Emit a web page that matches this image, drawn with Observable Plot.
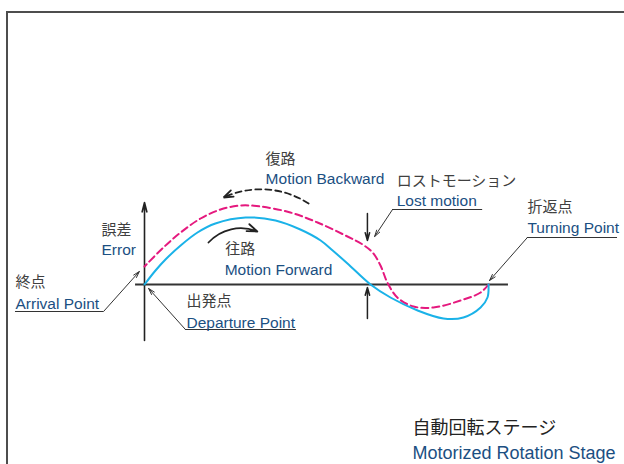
<!DOCTYPE html>
<html><head><meta charset="utf-8">
<script src="https://cdn.jsdelivr.net/npm/d3@7"></script>
<script src="https://cdn.jsdelivr.net/npm/@observablehq/plot@0.6"></script>
<style>
html,body{margin:0;padding:0;background:#fff;overflow:hidden;}
#wrap{position:relative;width:624px;height:464px;overflow:hidden;}
#frame{position:absolute;left:6px;top:11px;width:640px;height:480px;border-top:2px solid #4d4d4d;border-left:2px solid #4d4d4d;}
#chart{position:absolute;left:0;top:0;}
</style></head><body>
<div id="wrap"><div id="frame"></div><div id="chart"></div></div>
<script>
// Motion Forward (往路): stage position vs. positioning error
const forwardPos = [0, 3.2, 6.1, 10.5, 15.4, 20.6, 29.4, 38.1, 45.3, 51.2, 54.7, 59.0, 65.7, 71.5, 79.4, 86.9, 92.7, 97.7, 99.7, 100];
const forwardErr = [0, 1.4, 2.5, 3.9, 5.2, 6.1, 6.7, 6.4, 5.5, 4.4, 3.4, 2.1, 0, -1.3, -2.6, -3.4, -3.3, -2.3, -1.3, 0];
// Motion Backward (復路): from turning point back to arrival point
const backwardPos = [100, 97.7, 91.9, 84.0, 78.2, 73.5, 70.6, 68.6, 66.3, 63.4, 59.0, 50.3, 42.4, 33.7, 27.9, 22.1, 16.3, 10.5, 5.5, 0];
const backwardErr = [0, -0.8, -1.6, -2.3, -2.2, -1.3, 0.2, 1.9, 3.2, 4.0, 4.8, 6.2, 7.2, 7.8, 7.9, 7.5, 6.6, 5.2, 3.7, 1.8];

// Label texts
const jpLabels = ["復路", "ロストモーション", "折返点", "誤差", "往路", "終点", "出発点"];
const enLabels = ["Motion Backward", "Lost motion", "Turning Point", "Error", "Motion Forward", "Arrival Point", "Departure Point"];
const titleJp = "自動回転ステージ";
const titleEn = "Motorized Rotation Stage";

const forward = forwardPos.map((p, i) => ({pos: p, err: forwardErr[i]}));
const backward = backwardPos.map((p, i) => ({pos: p, err: backwardErr[i]}));

// annotation layout (in chart units)
const jpAt = [[35.2, 12.1], [73.3, 9.9], [111.3, 7.3], [-12.5, 5.0], [23.5, 3.1], [-37.5, -0.2], [12.2, -2.1]];
const enAt = [[35.2, 10.1], [73.3, 7.9], [111.3, 5.2], [-12.5, 3.0], [23.3, 1.0], [-37.5, -2.4], [12.2, -4.3]];
const jpData = jpLabels.map((t, i) => ({t, x: jpAt[i][0], y: jpAt[i][1]}));
const enData = enLabels.map((t, i) => ({t, x: enAt[i][0], y: enAt[i][1]}));

const underlines = [
  {x1: -37.5, x2: -11.9, y: -2.7},
  {x1: 11.9, x2: 44.2, y: -4.5},
  {x1: 72.1, x2: 98.3, y: 7.5},
  {x1: 111.3, x2: 137.5, y: 4.7}
];
const pointers = [
  {x1: -11.9, y1: -2.7, x2: -1.5, y2: 1.3},
  {x1: 11.9, y1: -4.5, x2: 1.2, y2: -0.4},
  {x1: 72.1, y1: 7.5, x2: 66.9, y2: 4.8},
  {x1: 111.3, y1: 4.7, x2: 100.3, y2: 0.4}
];
const lostArrows = [
  {x1: 64.8, y1: 7.1, x2: 64.8, y2: 4.4},
  {x1: 64.8, y1: -3.4, x2: 64.8, y2: -0.3}
];
// arrowhead of the dashed "backward" arrow (wing, tip, wing)
const backHead = [{x: 25.9, y: 8.79}, {x: 23.0, y: 8.7}, {x: 25.1, y: 9.41}];

const JP = "'Noto Sans CJK JP', sans-serif";
const EN = "'Liberation Sans', Arial, sans-serif";
const GRAY = "#404040";
const BLUE = "#1b4f82";

const chart = Plot.plot({
  width: 624, height: 464, margin: 0,
  x: {type: "linear", domain: [-41.86, 139.53], axis: null},
  y: {type: "linear", domain: [-18, 28.4], axis: null},
  style: {background: "transparent", overflow: "visible"},
  marks: [
    // axes
    Plot.ruleY([0], {x1: -2.6, x2: 105.8, stroke: "#333", strokeWidth: 2}),
    Plot.arrow([{x1: 0, y1: -5.6, x2: 0, y2: 8.2}], {x1: "x1", y1: "y1", x2: "x2", y2: "y2", stroke: "#222", strokeWidth: 1.6, headLength: 9, headAngle: 28}),
    // lost motion arrows
    Plot.arrow(lostArrows, {x1: "x1", y1: "y1", x2: "x2", y2: "y2", stroke: "#222", strokeWidth: 1.5, headLength: 8, headAngle: 32}),
    // curves
    Plot.line(backward, {x: "pos", y: "err", curve: "catmull-rom", stroke: "#e5197e", strokeWidth: 2, strokeDasharray: "7,4"}),
    Plot.line(forward, {x: "pos", y: "err", curve: "catmull-rom", stroke: "#1ab2e8", strokeWidth: 2}),
    // motion direction arrows
    Plot.arrow([{x1: 18.6, y1: 4.2, x2: 32.8, y2: 5.3}], {x1: "x1", y1: "y1", x2: "x2", y2: "y2", bend: 35, stroke: "#222", strokeWidth: 1.8, headLength: 9, headAngle: 40}),
    Plot.arrow([{x1: 47.7, y1: 8.1, x2: 23.0, y2: 8.7}], {x1: "x1", y1: "y1", x2: "x2", y2: "y2", bend: -29, stroke: "#222", strokeWidth: 1.8, headLength: 0, strokeDasharray: "6,4"}),
    Plot.line(backHead, {x: "x", y: "y", stroke: "#222", strokeWidth: 1.8, strokeLinejoin: "miter"}),
    // leaders
    Plot.ruleY(underlines, {x1: "x1", x2: "x2", y: "y", stroke: "#333", strokeWidth: 1}),
    Plot.arrow(pointers, {x1: "x1", y1: "y1", x2: "x2", y2: "y2", stroke: "#333", strokeWidth: 1, headLength: 10, headAngle: 32}),
    // labels
    Plot.text(jpData, {x: "x", y: "y", text: "t", textAnchor: "start", lineAnchor: "bottom", fill: GRAY, fontSize: 15, fontFamily: JP}),
    Plot.text(enData, {x: "x", y: "y", text: "t", textAnchor: "start", lineAnchor: "bottom", fill: BLUE, fontSize: 15.5, fontFamily: EN}),
    Plot.text([titleJp], {x: 77.9, y: -14.9, text: d => d, textAnchor: "start", lineAnchor: "bottom", fill: "#222", fontSize: 18, fontFamily: JP}),
    Plot.text([titleEn], {x: 77.9, y: -17.4, text: d => d, textAnchor: "start", lineAnchor: "bottom", fill: BLUE, fontSize: 18, fontFamily: EN})
  ]
});
document.getElementById("chart").appendChild(chart);
</script>
</body></html>
